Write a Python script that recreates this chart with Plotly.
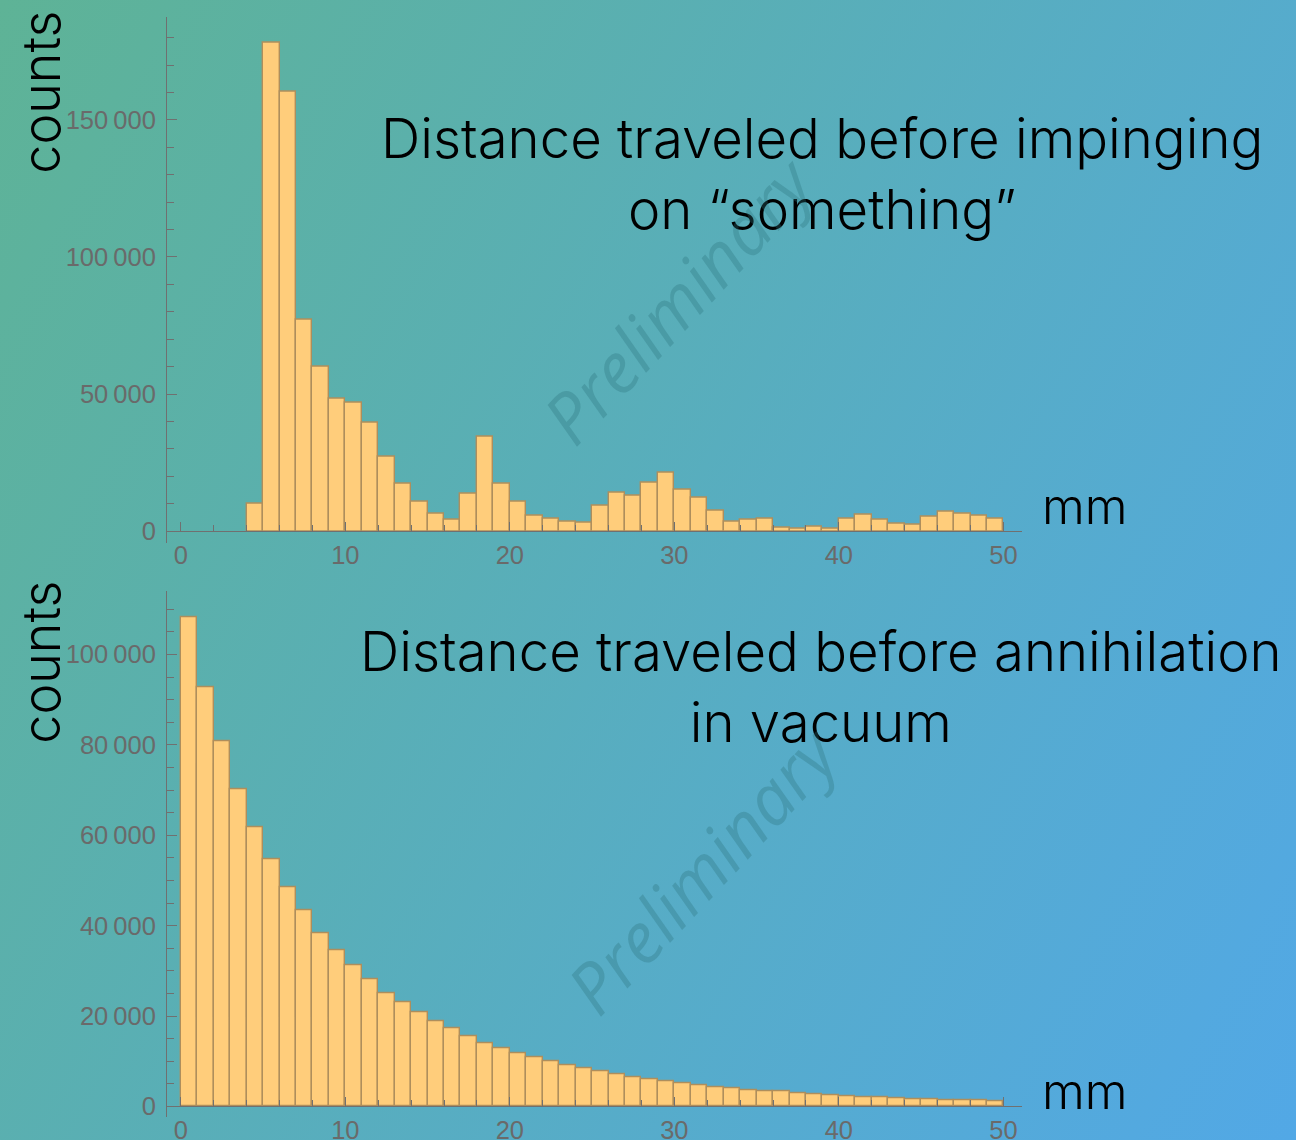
import base64
import plotly.graph_objects as go

# ---------------- data ----------------
bin_width = 1.0  # mm
top_bin_left = list(range(4, 50))
top_counts = [10100, 178000, 160400, 77000, 60100, 48200, 46900, 39400, 27200, 17250,
              10700, 6500, 4050, 13500, 34400, 17350, 10700, 5500, 4550, 3350,
              3100, 9150, 14200, 12900, 17850, 21350, 15050, 12300, 7450, 3450,
              4200, 4650, 1400, 1000, 1650, 1000, 4550, 6100, 4050, 2850,
              2250, 5150, 7100, 6350, 5500, 4650]

bottom_bin_left = list(range(0, 50))
bottom_counts = [108300, 92700, 80800, 70200, 61700, 54700, 48400, 43500, 38400, 34500,
                 31300, 28200, 25100, 23150, 20800, 18900, 17200, 15500, 14000, 12900,
                 11800, 10950, 10050, 9170, 8380, 7720, 7190, 6530, 6020, 5580,
                 5200, 4760, 4320, 3970, 3590, 3440, 3310, 3000, 2780, 2490,
                 2340, 2120, 1985, 1760, 1680, 1610, 1460, 1390, 1320, 1170]

top_title = "Distance traveled before impinging<br>on “something”"
bottom_title = "Distance traveled before annihilation<br>in vacuum"
y_label = "counts"
x_unit = "mm"
watermark = "Preliminary"

# ---------------- styling ----------------
W, H = 1296, 1144
TEXT_FONT = "Inter, 'Liberation Sans', Arial, sans-serif"
TICK_FONT = "'Liberation Sans', Arial, sans-serif"
AXIS_GRAY = "#707070"
TICK_GRAY = "#6a6a6a"
BAR_FILL = "#FFCD7B"
BAR_EDGE = "#AE8E5C"

x_range = [-0.9, 51.1]
x_dom = [166 / W, 1021.5 / W]

top_yrange = [-4360, 187650]
top_dom = [1 - 545 / H, 1 - 16.7 / H]
bot_yrange = [-2290, 114000]
bot_dom = [1 - 1120.7 / H, 1 - 593.3 / H]


def zero_pos(rng, dom):
    return dom[0] + (0 - rng[0]) / (rng[1] - rng[0]) * (dom[1] - dom[0])


fig = go.Figure()

fig.add_trace(go.Bar(
    x=[b + bin_width / 2 for b in top_bin_left], y=top_counts, width=bin_width,
    marker=dict(color=BAR_FILL, line=dict(color=BAR_EDGE, width=1.4)),
    xaxis="x", yaxis="y", showlegend=False, hoverinfo="x+y"))

fig.add_trace(go.Bar(
    x=[b + bin_width / 2 for b in bottom_bin_left], y=bottom_counts, width=bin_width,
    marker=dict(color=BAR_FILL, line=dict(color=BAR_EDGE, width=1.4)),
    xaxis="x2", yaxis="y2", showlegend=False, hoverinfo="x+y"))


def xaxis_cfg(rng, dom):
    return dict(
        domain=x_dom, range=x_range, anchor="free",
        position=zero_pos(rng, dom),
        showline=True, linecolor=AXIS_GRAY, linewidth=1,
        ticks="inside", ticklen=9, tickwidth=1, tickcolor=AXIS_GRAY,
        tick0=0, dtick=10,
        minor=dict(ticks="inside", ticklen=6, tickwidth=1, tickcolor=AXIS_GRAY, dtick=2, tick0=0),
        showgrid=False, zeroline=False,
        tickfont=dict(family=TICK_FONT, size=25.5, color=TICK_GRAY),
        ticklabelstandoff=1,
        fixedrange=True,
    )


def yaxis_cfg(rng, dom, dtick, minor_dtick):
    return dict(
        domain=dom, range=rng, anchor="free", position=x_dom[0],
        showline=True, linecolor=AXIS_GRAY, linewidth=1,
        ticks="inside", ticklen=10, tickwidth=1, tickcolor=AXIS_GRAY,
        tick0=0, dtick=dtick, tickformat=",d",
        minor=dict(ticks="inside", ticklen=7, tickwidth=1, tickcolor=AXIS_GRAY, dtick=minor_dtick, tick0=0),
        showgrid=False, zeroline=False,
        tickfont=dict(family=TICK_FONT, size=25.5, color=TICK_GRAY),
        ticklabelstandoff=5,
        fixedrange=True,
    )


xa1 = xaxis_cfg(top_yrange, top_dom)
xa2 = xaxis_cfg(bot_yrange, bot_dom)
ya1 = yaxis_cfg(top_yrange, top_dom, 50000, 10000)
ya2 = yaxis_cfg(bot_yrange, bot_dom, 20000, 5000)

# background gradient (layout image)
svg = (
    f'<svg xmlns="http://www.w3.org/2000/svg" width="{W}" height="{H}" viewBox="0 0 {W} {H}">'
    '<defs><linearGradient id="g" gradientUnits="userSpaceOnUse" x1="0" y1="0" x2="1480" y2="807">'
    '<stop offset="0" stop-color="#5EB396"/><stop offset="1" stop-color="#52A8E6"/>'
    '</linearGradient></defs>'
    f'<rect width="{W}" height="{H}" fill="url(#g)"/></svg>'
)
bg_src = "data:image/svg+xml;base64," + base64.b64encode(svg.encode()).decode()


def px(x):
    return x / W


def py(y):
    return 1 - y / H


WM_FONT = dict(family="'Open Sans', 'DejaVu Sans', sans-serif", size=70,
               color="rgba(45,115,125,0.32)", style="italic")
annotations = [
    dict(text=y_label, x=px(42), y=py(93), textangle=-90,
         font=dict(family=TEXT_FONT, size=52, color="black", weight=300)),
    dict(text=y_label, x=px(42), y=py(665), textangle=-90,
         font=dict(family=TEXT_FONT, size=52, color="black", weight=300)),
    dict(text=top_title, x=px(822), y=py(174), align="center",
         font=dict(family=TEXT_FONT, size=54.5, color="black", weight=300)),
    dict(text=bottom_title, x=px(821), y=py(689), align="center",
         font=dict(family=TEXT_FONT, size=54.5, color="black", weight=300)),
    dict(text=x_unit, x=px(1085), y=py(508),
         font=dict(family=TEXT_FONT, size=49, color="black", weight=300)),
    dict(text=x_unit, x=px(1085), y=py(1095),
         font=dict(family=TEXT_FONT, size=49, color="black", weight=300)),
    dict(text=watermark, x=px(678), y=py(300), textangle=-47, font=WM_FONT),
    dict(text=watermark, x=px(702), y=py(872), textangle=-47, font=WM_FONT),
]
for a in annotations:
    a.update(xref="paper", yref="paper", showarrow=False, xanchor="center", yanchor="middle")

fig.update_layout(
    width=W, height=H, autosize=False,
    margin=dict(l=0, r=0, t=0, b=0, pad=0),
    paper_bgcolor="rgba(0,0,0,0)", plot_bgcolor="rgba(0,0,0,0)",
    separators=".\u2009",
    bargap=0,
    xaxis=xa1, yaxis=ya1, xaxis2=xa2, yaxis2=ya2,
    annotations=annotations,
    images=[dict(source=bg_src, xref="paper", yref="paper", x=0, y=1, sizex=1, sizey=1,
                 xanchor="left", yanchor="top", sizing="stretch", layer="below")],
)

fig.write_html("out.html", config={"displayModeBar": False},
               post_script="document.body.style.margin='0';document.body.style.overflow='hidden';")
